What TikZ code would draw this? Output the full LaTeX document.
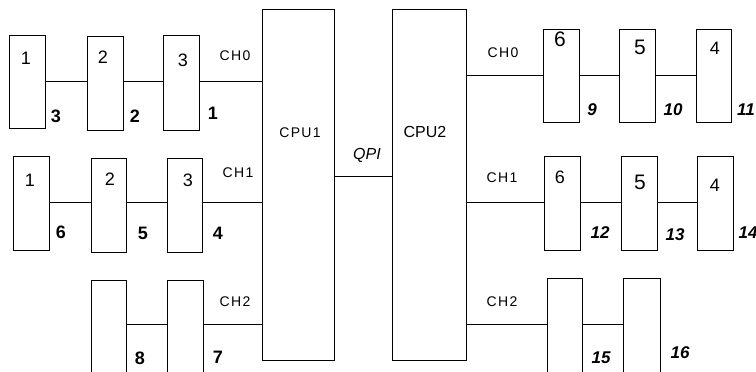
\documentclass[tikz,border=0pt]{standalone}
\usepackage{fontspec}
\setmainfont{Liberation Sans}
\newcommand\spc{\kern1.3pt}
\begin{document}
\begin{tikzpicture}[x=1pt,y=-1pt,
  bx/.style={draw,line width=0.9pt,rectangle,inner sep=0pt},
  ln/.style={line width=0.9pt},
  num/.style={inner sep=0pt,font=\fontsize{18}{18}\selectfont},
  bignum/.style={inner sep=0pt,font=\fontsize{21}{21}\selectfont},
  bnum/.style={inner sep=0pt,font=\fontsize{18}{18}\selectfont\bfseries},
  inum/.style={inner sep=0pt,font=\fontsize{17}{17}\selectfont\bfseries\itshape},
  chl/.style={inner sep=0pt,font=\fontsize{14}{14}\selectfont},
  cpul/.style={inner sep=0pt,font=\fontsize{14}{14}\selectfont}]
\useasboundingbox (0,0) rectangle (756,372);
\clip (0,0) rectangle (756,372);
% CPUs
\node[bx,minimum width=72pt,minimum height=351pt] (cpu1) at (298,184.5) {};
\node[bx,minimum width=74pt,minimum height=351pt] (cpu2) at (429,184.5) {};
\node[cpul] (tcpu1) at (300,133) {C\spc P\spc U\spc 1};
\node[cpul,font=\fontsize{16}{16}\selectfont] (tcpu2) at (425,132) {CPU2};
\node[inner sep=0pt,font=\fontsize{16}{16}\selectfont\itshape] (tqpi) at (367,155) {QPI};
\draw[ln] (cpu1.east |- 0,176) -- (cpu2.west |- 0,176);
% left row 1
\node[bx,minimum width=36pt,minimum height=93pt] (a1) at (27,81.5) {};
\node[bx,minimum width=36pt,minimum height=94pt] (a2) at (105,83) {};
\node[bx,minimum width=36pt,minimum height=95pt] (a3) at (181,82.5) {};
\draw[ln] (a1.east |- 0,81) -- (a2.west |- 0,81);
\draw[ln] (a2.east |- 0,81) -- (a3.west |- 0,81);
\draw[ln] (a3.east |- 0,81) -- (cpu1.west |- 0,81);
\node[num] (ta1) at (26,58) {1};
\node[num] (ta2) at (103,57) {2};
\node[num] (ta3) at (183,60) {3};
\node[bnum] (la1) at (56,116) {3};
\node[bnum] (la2) at (135,116) {2};
\node[bnum] (la3) at (213,113) {1};
\node[chl] (ch0l) at (235,56) {C\spc H\spc 0};
% left row 2
\node[bx,minimum width=36pt,minimum height=94pt] (b1) at (31,203) {};
\node[bx,minimum width=35pt,minimum height=94pt] (b2) at (108.5,205) {};
\node[bx,minimum width=35pt,minimum height=94pt] (b3) at (184.5,205) {};
\draw[ln] (b1.east |- 0,202) -- (b2.west |- 0,202);
\draw[ln] (b2.east |- 0,202) -- (b3.west |- 0,202);
\draw[ln] (b3.east |- 0,202) -- (cpu1.west |- 0,202);
\node[num] (tb1) at (30,180) {1};
\node[num] (tb2) at (110,179) {2};
\node[num] (tb3) at (188,180) {3};
\node[bnum] (lb1) at (61,232) {6};
\node[bnum] (lb2) at (143,233) {5};
\node[bnum] (lb3) at (218,233) {4};
\node[chl] (ch1l) at (238,173) {C\spc H\spc 1};
% left row 3
\node[bx,minimum width=35pt,minimum height=120pt] (c1) at (108.5,340) {};
\node[bx,minimum width=36pt,minimum height=120pt] (c2) at (185,340) {};
\draw[ln] (c1.east |- 0,324) -- (c2.west |- 0,324);
\draw[ln] (c2.east |- 0,324) -- (cpu1.west |- 0,324);
\node[bnum] (lc1) at (140,358) {8};
\node[bnum] (lc2) at (218,357) {7};
\node[chl] (ch2l) at (235,302) {C\spc H\spc 2};
% right row 1
\node[bx,minimum width=36pt,minimum height=93pt] (d1) at (561,75.5) {};
\node[bx,minimum width=36pt,minimum height=93pt] (d2) at (637,75.5) {};
\node[bx,minimum width=35pt,minimum height=93pt] (d3) at (713.5,75.5) {};
\draw[ln] (cpu2.east |- 0,75) -- (d1.west |- 0,75);
\draw[ln] (d1.east |- 0,75) -- (d2.west |- 0,75);
\draw[ln] (d2.east |- 0,75) -- (d3.west |- 0,75);
\node[bignum] (td1) at (560,39) {6};
\node[bignum] (td2) at (640,47) {5};
\node[num] (td3) at (715,48) {4};
\node[inum] (ld1) at (592,110) {9};
\node[inum] (ld2) at (673,110) {10};
\node[inum] (ld3) at (746,110) {11};
\node[chl] (rch0l) at (503,53) {C\spc H\spc 0};
% right row 2
\node[bx,minimum width=36pt,minimum height=94pt] (e1) at (562,203) {};
\node[bx,minimum width=36pt,minimum height=94pt] (e2) at (639,203) {};
\node[bx,minimum width=36pt,minimum height=94pt] (e3) at (715,203) {};
\draw[ln] (cpu2.east |- 0,202) -- (e1.west |- 0,202);
\draw[ln] (e1.east |- 0,202) -- (e2.west |- 0,202);
\draw[ln] (e2.east |- 0,202) -- (e3.west |- 0,202);
\node[num] (te1) at (560,177) {6};
\node[bignum] (te2) at (640,182) {5};
\node[num] (te3) at (715,185) {4};
\node[inum] (le1) at (600,233) {12};
\node[inum] (le2) at (675,235) {13};
\node[inum] (le3) at (748,233) {14};
\node[chl] (rch1l) at (502,178) {C\spc H\spc 1};
% right row 3
\node[bx,minimum width=35pt,minimum height=122pt] (f1) at (564.5,339) {};
\node[bx,minimum width=37pt,minimum height=122pt] (f2) at (641.5,339) {};
\draw[ln] (cpu2.east |- 0,324) -- (f1.west |- 0,324);
\draw[ln] (f1.east |- 0,324) -- (f2.west |- 0,324);
\node[inum] (lf1) at (601,358) {15};
\node[inum] (lf2) at (680,353) {16};
\node[chl] (rch2l) at (502,302) {C\spc H\spc 2};
\end{tikzpicture}
\end{document}
